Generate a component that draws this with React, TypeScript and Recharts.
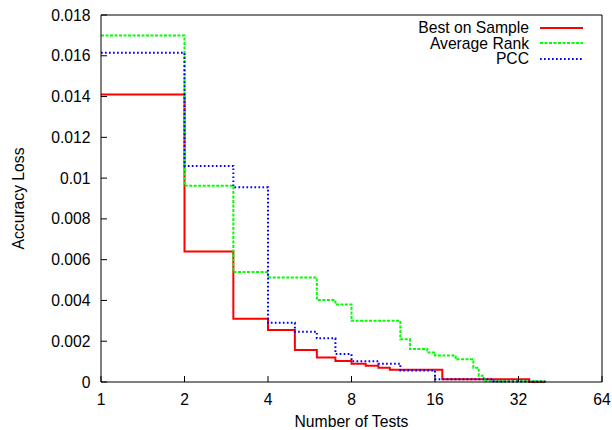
import { LineChart, Line, XAxis, YAxis, CartesianGrid } from 'recharts';

const seriesNames = ['Best on Sample', 'Average Rank', 'PCC'];
const seriesColors = ['#ff0000', '#00ff00', '#0000ff'];
const seriesDashes = ['', '3 1.5', '1.7 2.3'];

// step positions (number of tests) and loss values
const bestTests = [1, 2, 3, 4, 5, 6, 7, 8, 9, 10, 11, 17, 35, 40];
const bestLoss = [0.0141, 0.0064, 0.0031, 0.00255, 0.00157, 0.0012, 0.00103, 0.0009, 0.0008, 0.0007, 0.0006, 0.00013, 0, 0];

const rankTests = [1, 2, 3, 4, 6, 7, 8, 12, 13, 15, 16, 19, 22, 23, 24, 40];
const rankLoss = [0.017, 0.00963, 0.0054, 0.00512, 0.00402, 0.0038, 0.003, 0.0021, 0.00162, 0.00145, 0.0013, 0.00111, 0.0007, 0.00031, 0.00004, 0.00004];

const pccTests = [1, 2, 3, 4, 5, 6, 7, 8, 10, 12, 16, 26, 40];
const pccLoss = [0.01615, 0.0106, 0.00955, 0.0029, 0.00247, 0.00214, 0.00137, 0.00102, 0.0009, 0.00057, 0.00014, 0.00003, 0.00003];

const xTicks = [1, 2, 4, 8, 16, 32, 64];
const yTicks = [0, 0.002, 0.004, 0.006, 0.008, 0.01, 0.012, 0.014, 0.016, 0.018];
const xDomain = [1, 64];
const yDomain = [0, 0.018];

const font = '"Liberation Sans", Arial, Helvetica, sans-serif';
const fontSize = 15.7;

function toRows(tests: number[], loss: number[]) {
  return tests.map((t, i) => ({ tests: t, loss: loss[i] }));
}

const seriesData = [toRows(bestTests, bestLoss), toRows(rankTests, rankLoss), toRows(pccTests, pccLoss)];

function fmtY(v: number) {
  return String(+v.toFixed(3));
}

function renderBottomTick(props: any) {
  const { x, y, payload } = props;
  return (
    <g>
      <line x1={x} y1={y} x2={x} y2={y - 6} stroke="#000" />
      <text x={x} y={y + 23} textAnchor="middle" fontSize={fontSize} fontFamily={font} fill="#000">
        {payload.value}
      </text>
    </g>
  );
}

function renderLeftTick(props: any) {
  const { x, y, payload } = props;
  return (
    <g>
      <line x1={x} y1={y} x2={x + 6} y2={y} stroke="#000" />
      <text x={x - 10.5} y={y + 5.5} textAnchor="end" fontSize={fontSize} fontFamily={font} fill="#000">
        {fmtY(payload.value)}
      </text>
    </g>
  );
}

// only the top and right edges of the plot box
function topEdge({ offset }: any) {
  return [offset.top];
}

function rightEdge({ offset }: any) {
  return [offset.left + offset.width];
}

export default function App() {
  return (
    <div style={{ position: 'relative', width: 612, height: 430, background: '#fff' }}>
      <style>{'body{margin:0}'}</style>
      <LineChart width={612} height={430} margin={{ top: 15, right: 10, bottom: 0, left: 0 }}>
        <CartesianGrid
          stroke="#000"
          horizontalCoordinatesGenerator={topEdge}
          verticalCoordinatesGenerator={rightEdge}
        />
        <XAxis
          dataKey="tests"
          type="number"
          scale="log"
          domain={xDomain}
          ticks={xTicks}
          allowDataOverflow
          height={48}
          tickSize={0}
          tickMargin={0}
          tick={renderBottomTick}
          stroke="#000"
          tickLine={false}
          label={{ value: 'Number of Tests', position: 'insideBottom', offset: 3, fontSize, fontFamily: font, fill: '#000' }}
        />
        <YAxis
          type="number"
          domain={yDomain}
          ticks={yTicks}
          width={101}
          tickSize={0}
          tickMargin={0}
          tick={renderLeftTick}
          stroke="#000"
          tickLine={false}
          label={{
            value: 'Accuracy Loss',
            angle: -90,
            position: 'insideLeft',
            offset: 18,
            style: { textAnchor: 'middle' },
            fontSize,
            fontFamily: font,
            fill: '#000',
          }}
        />
        {seriesData.map((rows, i) => (
          <Line
            key={seriesNames[i]}
            data={rows}
            dataKey="loss"
            name={seriesNames[i]}
            type="stepAfter"
            stroke={seriesColors[i]}
            strokeWidth={2}
            strokeDasharray={seriesDashes[i] || undefined}
            dot={false}
            isAnimationActive={false}
          />
        ))}
      </LineChart>
      <div style={{ position: 'absolute', top: 20, right: 29.3, fontFamily: font, fontSize, color: '#000' }}>
        {seriesNames.map((name, i) => (
          <div key={name} style={{ display: 'flex', justifyContent: 'flex-end', alignItems: 'center', height: 15.5, lineHeight: '15.5px' }}>
            <span>{name}</span>
            <svg width={43} height={4} style={{ marginLeft: 10.7 }}>
              <line x1={0} y1={2} x2={43} y2={2} stroke={seriesColors[i]} strokeWidth={2} strokeDasharray={seriesDashes[i] || undefined} />
            </svg>
          </div>
        ))}
      </div>
    </div>
  );
}
